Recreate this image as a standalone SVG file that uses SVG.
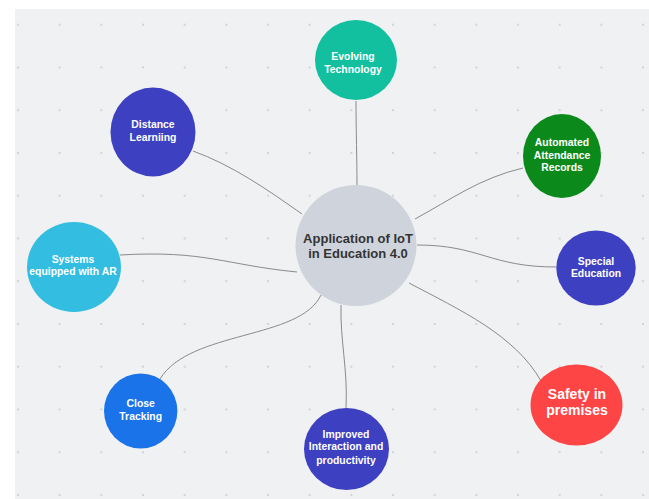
<svg xmlns="http://www.w3.org/2000/svg" width="649" height="499" viewBox="0 0 649 499">
<defs>
<pattern id="dots" patternUnits="userSpaceOnUse" x="17" y="23.7" width="41.67" height="42.75">
<circle cx="1" cy="1" r="0.9" fill="#c4c6ca"/>
</pattern>
<style>
.t{font-family:"Liberation Sans",Arial,sans-serif;font-weight:bold;font-size:10.4px;fill:#ffffff;text-anchor:middle}
.big{font-size:14px}
.c{font-size:13px;fill:#333333}
.conn path{fill:none;stroke:#8a8a8a;stroke-width:1}
</style>
</defs>
<rect x="0" y="0" width="649" height="499" fill="#ffffff"/>
<rect x="15" y="9" width="634" height="490" fill="#f0f1f3"/>
<rect x="15" y="9" width="634" height="490" fill="url(#dots)"/>
<g id="connectors" class="conn">
<path d="M356,101 C356,130 357,160 357,185"/>
<path d="M193,151 C232,165 268,190 302,214"/>
<path d="M415,219 C450,200 480,178 523,168"/>
<path d="M417,245 C480,245 490,267 556,267"/>
<path d="M409,283 C460,310 515,335 541,381"/>
<path d="M341,305 C340,340 348,370 346,408"/>
<path d="M321,295 C300,340 190,330 160,379"/>
<path d="M297,272 C225,265 205,250 120,255"/>
</g>
<g id="center">
<circle cx="356" cy="245.5" r="60.5" fill="#cfd4dc"/>
<text class="t c" x="358" y="243">Application of IoT</text>
<text class="t c" x="358" y="258">in Education 4.0</text>
</g>
<g id="evolving">
<ellipse cx="356" cy="60" rx="41" ry="40" fill="#12bf9f"/>
<text class="t" x="353" y="60">Evolving</text>
<text class="t" x="353" y="72.5">Technology</text>
</g>
<g id="distance">
<ellipse cx="153" cy="132" rx="42.5" ry="44.5" fill="#3d40c0"/>
<text class="t" x="153" y="128">Distance</text>
<text class="t" x="153" y="141">Learniing</text>
</g>
<g id="automated">
<ellipse cx="562" cy="156" rx="39" ry="42" fill="#0b8a1b"/>
<text class="t" x="562" y="146">Automated</text>
<text class="t" x="562" y="158.5">Attendance</text>
<text class="t" x="562" y="171">Records</text>
</g>
<g id="special">
<ellipse cx="596" cy="268" rx="39.7" ry="37.5" fill="#3d40c0"/>
<text class="t" x="596" y="264.5">Special</text>
<text class="t" x="596" y="277">Education</text>
</g>
<g id="systems">
<ellipse cx="74" cy="267" rx="47" ry="45" fill="#33bde0"/>
<text class="t" x="73" y="262.5">Systems</text>
<text class="t" x="73" y="275">equipped with AR</text>
</g>
<g id="safety">
<ellipse cx="576.5" cy="405" rx="46" ry="40.5" fill="#fd4545"/>
<text class="t big" x="577" y="398.5">Safety in</text>
<text class="t big" x="577" y="415">premises</text>
</g>
<g id="improved">
<ellipse cx="346.5" cy="449" rx="42.5" ry="41" fill="#3d40c0"/>
<text class="t" x="346" y="437.5">Improved</text>
<text class="t" x="346" y="450">Interaction and</text>
<text class="t" x="346" y="463.5">productivity</text>
</g>
<g id="close">
<ellipse cx="140.7" cy="411" rx="36.7" ry="37.5" fill="#1a73e8"/>
<text class="t" x="140.7" y="407">Close</text>
<text class="t" x="140.7" y="419.5">Tracking</text>
</g>
</svg>
